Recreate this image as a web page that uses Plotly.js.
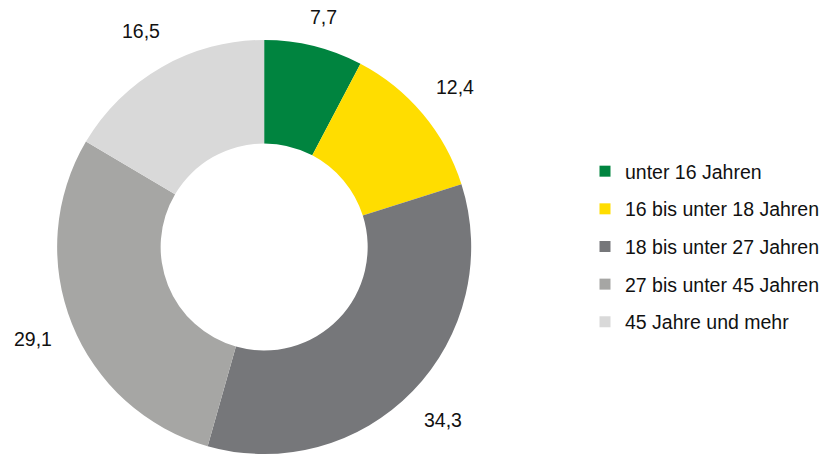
<!DOCTYPE html>
<html><head><meta charset="utf-8">
<script src="https://cdn.plot.ly/plotly-3.0.1.min.js"></script>
<style>html,body{margin:0;padding:0;background:#fff}#chart{width:832px;height:454px}</style>
</head><body><div id="chart"></div>
<script>
const categories = ['unter 16 Jahren', '16 bis unter 18 Jahren', '18 bis unter 27 Jahren', '27 bis unter 45 Jahren', '45 Jahre und mehr'];
const shares = [7.7, 12.4, 34.3, 29.1, 16.5];
const colors = ['#00843F', '#FFDD00', '#76777A', '#A6A6A4', '#D9D9D9'];

const W = 832, H = 454;
const FONT = 'Liberation Sans, Arial, sans-serif';
const domX = [0.065, 0.57], domY = [0, 0.912];

// pie geometry derived from its domain (Plotly: radius = half the smaller side)
const cx = (domX[0] + domX[1]) / 2 * W;
const cy = H - (domY[0] + domY[1]) / 2 * H;
const r = Math.min((domX[1] - domX[0]) * W, (domY[1] - domY[0]) * H) / 2;
const labelR = r + 42;

const total = shares.reduce((a, b) => a + b, 0);
let cum = 0;
const annotations = shares.map(v => {
  const mid = (cum + v / 2) / total * 2 * Math.PI;
  cum += v;
  const px = cx + labelR * Math.sin(mid);
  const py = Math.min(H - 14, Math.max(17, cy - labelR * Math.cos(mid)));
  return {
    x: px / W, y: 1 - py / H, xref: 'paper', yref: 'paper',
    text: v.toFixed(1).replace('.', ','), showarrow: false,
    xanchor: 'center', yanchor: 'middle',
    font: {family: FONT, size: 19.5, color: '#111'}
  };
});

const pie = {
  type: 'pie', labels: categories, values: shares, sort: false,
  direction: 'clockwise', rotation: 0, hole: 0.5,
  marker: {colors: colors, line: {width: 0}},
  textinfo: 'none', hoverinfo: 'none', showlegend: false,
  domain: {x: domX, y: domY}
};

const legendTraces = categories.map((c, i) => ({
  type: 'scatter', mode: 'markers', x: [null], y: [null], name: c,
  legendgroup: c, showlegend: true, hoverinfo: 'none',
  marker: {symbol: 'square', size: 11, color: colors[i]}
}));

const layout = {
  width: W, height: H, margin: {l: 0, r: 0, t: 0, b: 0},
  paper_bgcolor: '#fff', plot_bgcolor: 'rgba(0,0,0,0)',
  xaxis: {visible: false}, yaxis: {visible: false},
  showlegend: true,
  legend: {
    x: 585 / W, xanchor: 'left', y: 1 - 152 / H, yanchor: 'top',
    traceorder: 'grouped', tracegroupgap: 9.3,
    font: {family: FONT, size: 19.5, color: '#111'},
    bgcolor: 'rgba(0,0,0,0)'
  },
  annotations: annotations
};

Plotly.newPlot('chart', [pie].concat(legendTraces), layout, {displayModeBar: false, staticPlot: true});
</script></body></html>
